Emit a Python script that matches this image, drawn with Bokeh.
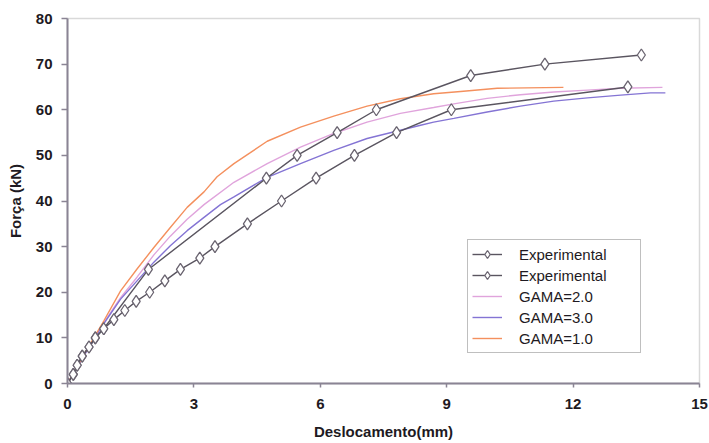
import numpy as np
from bokeh.plotting import figure
from bokeh.models import Range1d, FixedTicker, Legend, LegendItem
from bokeh.embed import file_html
from bokeh.resources import INLINE

# ---- data ----
x_ticks = [0, 3, 6, 9, 12, 15]
y_ticks = [0, 10, 20, 30, 40, 50, 60, 70, 80]

exp_a_x = [0, 0.14, 0.23, 0.35, 0.51, 0.66, 0.86, 1.92, 4.72, 5.45, 6.40, 7.33, 9.57, 11.33, 13.62]
exp_a_y = [0, 2, 4, 6, 8, 10, 12, 25, 45, 50, 55, 60, 67.5, 70, 72]

exp_b_x = [0, 0.135, 0.23, 0.35, 0.51, 0.66, 0.86, 1.10, 1.36, 1.63, 1.95, 2.31, 2.68, 3.14, 3.50,
           4.27, 5.08, 5.90, 6.81, 7.81, 9.11, 13.30]
exp_b_y = [0, 2, 4, 6, 8, 10, 12, 14, 16, 18, 20, 22.5, 25, 27.5, 30,
           35, 40, 45, 50, 55, 60, 65]

g2_x = [0, 0.4, 0.86, 1.26, 1.65, 2.05, 2.44, 2.84, 3.24, 3.95, 4.74, 5.53, 6.32, 7.11, 7.90,
        8.69, 9.17, 9.96, 10.75, 11.54, 12.34, 13.13, 14.12]
g2_y = [0, 6.3, 13.3, 18.8, 23.3, 28.2, 32.3, 36.0, 39.2, 44.1, 48.2, 51.8, 54.8, 57.3, 59.2,
        60.5, 61.3, 62.5, 63.3, 63.9, 64.3, 64.7, 64.9]

g3_x = [0, 0.4, 0.86, 1.26, 1.65, 2.05, 2.44, 2.84, 3.24, 3.63, 3.95, 4.74, 5.53, 6.32, 7.11,
        7.90, 8.38, 8.69, 9.17, 9.96, 10.75, 11.54, 12.34, 13.13, 13.84, 14.19]
g3_y = [0, 6.2, 13.1, 18.5, 22.5, 26.6, 30.2, 33.5, 36.4, 39.2, 40.9, 45.2, 48.2, 51.1, 53.7,
        55.5, 56.6, 57.3, 58.1, 59.5, 60.8, 61.9, 62.6, 63.2, 63.7, 63.7]

g1_x = [0, 0.4, 0.86, 1.26, 1.65, 2.05, 2.44, 2.84, 3.24, 3.55, 3.95, 4.34, 4.74, 5.53, 6.32,
        7.11, 7.90, 8.69, 9.33, 10.2, 11.77]
g1_y = [0, 6.5, 13.7, 20.3, 25.1, 29.8, 34.2, 38.6, 42.0, 45.3, 48.2, 50.6, 53.1, 56.2, 58.6,
        60.8, 62.4, 63.5, 64.0, 64.7, 64.9]

# ---- styles ----
FONT = "Liberation Sans"
AXIS_COL = "#8a8494"
TEXT_COL = "#1e1a22"
EXP_LINE = "#5a5560"
EXP_MARK = "#6a6470"
C_G1 = "#f4905e"
C_G2 = "#e0a4dc"
C_G3 = "#8474d4"

p = figure(width=709, height=443, output_backend="svg", toolbar_location=None,
           x_range=Range1d(0, 15), y_range=Range1d(0, 80),
           min_border_left=67, min_border_right=10, min_border_top=18, min_border_bottom=60)

p.xgrid.visible = False
p.ygrid.visible = False
p.outline_line_color = "#d9d9d9"
p.outline_line_width = 1.5
p.background_fill_color = "white"
p.border_fill_color = "white"

p.xaxis.ticker = FixedTicker(ticks=x_ticks)
p.yaxis.ticker = FixedTicker(ticks=y_ticks)
p.xaxis.axis_label = "Deslocamento(mm)"
p.yaxis.axis_label = "Força (kN)"
for ax in (p.xaxis, p.yaxis):
    ax.axis_line_color = AXIS_COL
    ax.axis_line_width = 2
    ax.major_tick_line_color = AXIS_COL
    ax.major_tick_line_width = 1.5
    ax.major_tick_in = 0
    ax.minor_tick_line_color = None
    ax.major_label_text_font = FONT
    ax.major_label_text_font_size = "15px"
    ax.major_label_text_font_style = "bold"
    ax.major_label_text_color = TEXT_COL
    ax.axis_label_text_font = FONT
    ax.axis_label_text_font_size = "15px"
    ax.axis_label_text_font_style = "bold"
    ax.axis_label_text_color = TEXT_COL
p.xaxis.major_tick_out = 4
p.yaxis.major_tick_out = 6
p.xaxis.major_label_standoff = 11
p.yaxis.major_label_standoff = 9
p.xaxis.axis_label_standoff = 11
p.yaxis.axis_label_standoff = 9

# simulation curves
r_g2 = p.line(g2_x, g2_y, line_color=C_G2, line_width=1.4)
r_g3 = p.line(g3_x, g3_y, line_color=C_G3, line_width=1.4)
r_g1 = p.line(g1_x, g1_y, line_color=C_G1, line_width=1.4)

# experimental curves
ra_l = p.line(exp_a_x, exp_a_y, line_color=EXP_LINE, line_width=1.4)
ra_m = p.scatter(exp_a_x, exp_a_y, marker="diamond", size=12,
                 fill_color="white", line_color=EXP_MARK, line_width=1.3)
rb_l = p.line(exp_b_x, exp_b_y, line_color=EXP_LINE, line_width=1.4)
rb_m = p.scatter(exp_b_x, exp_b_y, marker="diamond", size=12,
                 fill_color="white", line_color=EXP_MARK, line_width=1.3)

legend = Legend(items=[
    LegendItem(label="Experimental", renderers=[ra_l, ra_m]),
    LegendItem(label="Experimental", renderers=[rb_l, rb_m]),
    LegendItem(label="GAMA=2.0", renderers=[r_g2]),
    LegendItem(label="GAMA=3.0", renderers=[r_g3]),
    LegendItem(label="GAMA=1.0", renderers=[r_g1]),
], location=(400, 30), padding=4, spacing=1, label_height=20, glyph_height=20,
    glyph_width=30, label_standoff=17, label_width=117, margin=0,
    border_line_color="#7f7f7f", border_line_width=1.5,
    background_fill_color="white", background_fill_alpha=1,
    label_text_font=FONT, label_text_font_size="15px", label_text_color=TEXT_COL)
p.add_layout(legend)

open("out.html", "w").write(file_html(p, INLINE))
